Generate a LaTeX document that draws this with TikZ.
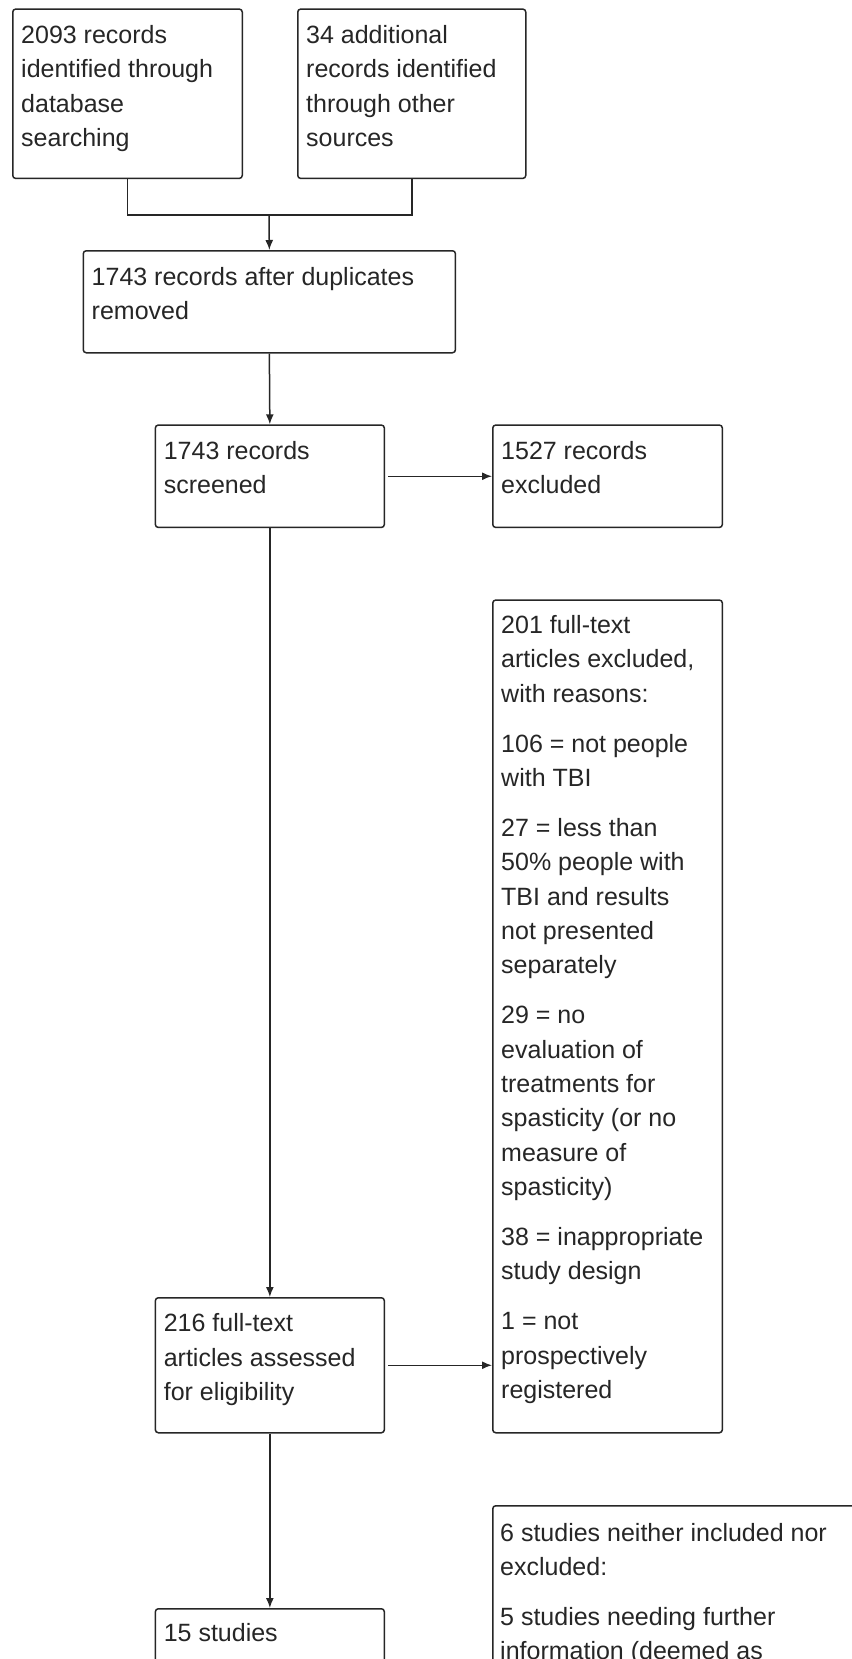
\documentclass[tikz,border=0pt]{standalone}
\usepackage{fontspec}
\setmainfont{Liberation Sans}
\usetikzlibrary{arrows.meta}
\begin{document}
\begin{tikzpicture}[x=1pt,y=-1pt,
  box/.style={draw=black!85, line width=1.5pt, rounded corners=3pt, anchor=north west, inner sep=0pt},
  txt/.style={anchor=north west, inner sep=0pt, align=left, text=black!85,
              font=\fontsize{25}{34.4}\selectfont},
  conn/.style={draw=black!85, line width=1.5pt},
  arr/.style={conn, -{Latex[length=10pt,width=8pt]}}]
\useasboundingbox (0,0) rectangle (851,1659);
\fill[white] (0,0) rectangle (851,1659);
% boxes
\node[box, minimum width=229.5pt, minimum height=169.4pt] (A) at (12,8.3) {};
\node[box, minimum width=228pt, minimum height=169.4pt] (B) at (297,8.3) {};
\node[box, minimum width=372.2pt, minimum height=102pt] (C) at (82.5,250) {};
\node[box, minimum width=229pt, minimum height=102.4pt] (D) at (154.6,424.3) {};
\node[box, minimum width=229.6pt, minimum height=102.4pt] (E) at (492,424.3) {};
\node[box, minimum width=229.6pt, minimum height=832.7pt] (F) at (492,599.3) {};
\node[box, minimum width=229pt, minimum height=135pt] (G) at (154.6,1297) {};
\node[box, minimum width=229pt, minimum height=160pt] (H) at (154.6,1608) {};
\node[box, minimum width=400pt, minimum height=300pt] (I) at (492,1505) {};
% texts
\node[txt] (At) at ([shift={(9pt,-10.9pt)}]A.north west) {\strut 2093 records\\identified through\\database\\searching};
\node[txt] (Bt) at ([shift={(9pt,-10.9pt)}]B.north west) {\strut 34 additional\\records identified\\through other\\sources};
\node[txt] (Ct) at ([shift={(9pt,-10.9pt)}]C.north west) {\strut 1743 records after duplicates\\removed};
\node[txt] (Dt) at ([shift={(9pt,-10.9pt)}]D.north west) {\strut 1743 records\\screened};
\node[txt] (Et) at ([shift={(9pt,-10.9pt)}]E.north west) {\strut 1527 records\\excluded};
\node[txt] (Ft) at ([shift={(9pt,-9.9pt)}]F.north west) {\strut 201 full-text\\articles excluded,\\with reasons:\\[15.4pt]
106 = not people\\with TBI\\[15.4pt]
27 = less than\\50\% people with\\TBI and results\\not presented\\separately\\[15.4pt]
29 = no\\evaluation of\\treatments for\\spasticity (or no\\measure of\\spasticity)\\[15.4pt]
38 = inappropriate\\study design\\[15.4pt]
1 = not\\prospectively\\registered};
\node[txt] (Gt) at ([shift={(9pt,-10.6pt)}]G.north west) {\strut 216 full-text\\articles assessed\\for eligibility};
\node[txt] (Ht) at ([shift={(9pt,-9.6pt)}]H.north west) {\strut 15 studies};
\node[txt] (It) at ([shift={(8pt,-12pt)}]I.north west) {\strut 6 studies neither included nor\\excluded:\\[15.4pt]
5 studies needing further\\information (deemed as};
% connectors
\coordinate (join) at (269,215);
\draw[conn] (A.south) |- (join) -| (B.south);
\draw[arr] (join) -- (C.north);
\draw[arr] (C.south) -- (D.north);
\draw[arr] ([xshift=3pt]D.east) -- (E.west);
\draw[arr] (D.south) -- (G.north);
\draw[arr] ([xshift=3pt]G.east) -- (F.west |- G.east);
\draw[arr] (G.south) -- (H.north);
\end{tikzpicture}
\end{document}
